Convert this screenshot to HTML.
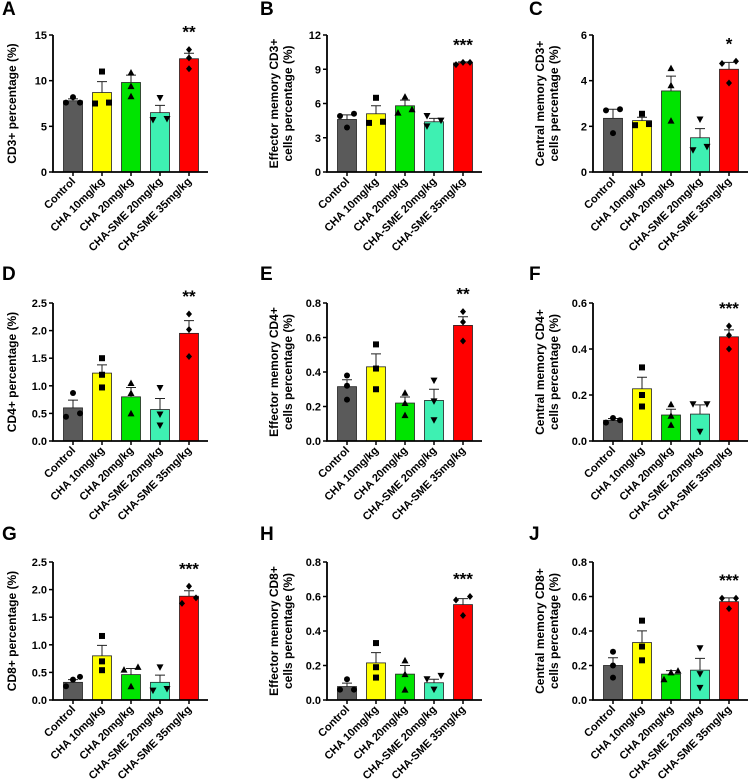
<!DOCTYPE html>
<html><head><meta charset="utf-8"><style>
body{margin:0;background:#fff;}
svg{display:block;font-family:"Liberation Sans",Arial,sans-serif;}
</style></head><body>
<svg id="fig" width="751" height="780" viewBox="0 0 751 780"></svg>
<script>
const categories = ["Control","CHA 10mg/kg","CHA 20mg/kg","CHA-SME 20mg/kg","CHA-SME 35mg/kg"];
const barColors = ["#5a5a5a","#ffff00","#00e400","#3ef0b2","#ff0000"];

const meansA=[7.8,8.7,9.8,6.5,12.4], semA=[0.2,1.2,0.8,0.8,0.6];
const ptsA=[[7.6,8.2,7.6],[7.5,11,7.6],[8.3,10.9,9.4],[5.7,8.1,5.8],[11.3,13.4,12.5]];
const ticksA=[0,5,10,15];
const meansB=[4.6,5.1,5.8,4.4,9.55], semB=[0.4,0.7,0.5,0.3,0.1];
const ptsB=[[3.9,4.9,5.1],[4.3,6.5,4.4],[5.2,6.6,5.5],[4.0,4.9,4.5],[9.4,9.6,9.6]];
const ticksB=[0,3,6,9,12];
const meansC=[2.35,2.25,3.55,1.5,4.5], semC=[0.4,0.15,0.65,0.4,0.3];
const ptsC=[[1.7,2.7,2.75],[2.05,2.55,2.1],[2.25,3.8,4.55],[0.95,1.1,2.3],[3.9,4.75,4.85]];
const ticksC=[0,2,4,6];
const meansD=[0.6,1.23,0.8,0.57,1.95], semD=[0.14,0.15,0.17,0.2,0.23];
const ptsD=[[0.44,0.87,0.5],[0.97,1.5,1.2],[0.5,1.05,0.87],[0.28,0.48,0.96],[1.53,2.02,2.3]];
const ticksD=[0,0.5,1.0,1.5,2.0,2.5];
const meansE=[0.315,0.43,0.22,0.235,0.67], semE=[0.04,0.075,0.035,0.065,0.05];
const ptsE=[[0.24,0.32,0.38],[0.3,0.42,0.56],[0.15,0.22,0.28],[0.12,0.23,0.35],[0.58,0.69,0.75]];
const ticksE=[0,0.2,0.4,0.6,0.8];
const meansF=[0.09,0.227,0.113,0.117,0.453], semF=[0.008,0.05,0.025,0.04,0.03];
const ptsF=[[0.08,0.1,0.09],[0.15,0.2,0.32],[0.07,0.11,0.16],[0.04,0.16,0.16],[0.4,0.46,0.5]];
const ticksF=[0,0.2,0.4,0.6];
const meansG=[0.32,0.8,0.46,0.32,1.88], semG=[0.05,0.19,0.11,0.13,0.1];
const ptsG=[[0.25,0.37,0.42],[0.54,0.7,1.16],[0.25,0.55,0.6],[0.17,0.2,0.59],[1.75,1.85,2.06]];
const ticksG=[0,0.5,1.0,1.5,2.0,2.5];
const meansH=[0.078,0.215,0.15,0.1,0.553], semH=[0.02,0.06,0.05,0.02,0.035];
const ptsH=[[0.06,0.06,0.12],[0.13,0.19,0.33],[0.06,0.15,0.23],[0.06,0.12,0.14],[0.49,0.58,0.6]];
const ticksH=[0,0.2,0.4,0.6,0.8];
const meansJ=[0.2,0.333,0.15,0.173,0.57], semJ=[0.045,0.068,0.02,0.068,0.022];
const ptsJ=[[0.13,0.2,0.28],[0.23,0.31,0.46],[0.12,0.16,0.17],[0.07,0.15,0.3],[0.53,0.59,0.59]];
const ticksJ=[0,0.2,0.4,0.6,0.8];

const panels=[
 {id:"A",col:0,row:0,title:["CD3+ percentage (%)"],m:meansA,s:semA,p:ptsA,t:ticksA,dec:0,star:"**"},
 {id:"B",col:1,row:0,title:["Effector memory CD3+","cells percentage (%)"],m:meansB,s:semB,p:ptsB,t:ticksB,dec:0,star:"***"},
 {id:"C",col:2,row:0,title:["Central memory CD3+","cells percentage (%)"],m:meansC,s:semC,p:ptsC,t:ticksC,dec:0,star:"*"},
 {id:"D",col:0,row:1,title:["CD4+ percentage (%)"],m:meansD,s:semD,p:ptsD,t:ticksD,dec:1,star:"**"},
 {id:"E",col:1,row:1,title:["Effector memory CD4+","cells percentage (%)"],m:meansE,s:semE,p:ptsE,t:ticksE,dec:1,star:"**"},
 {id:"F",col:2,row:1,title:["Central memory CD4+","cells percentage (%)"],m:meansF,s:semF,p:ptsF,t:ticksF,dec:1,star:"***"},
 {id:"G",col:0,row:2,title:["CD8+ percentage (%)"],m:meansG,s:semG,p:ptsG,t:ticksG,dec:1,star:"***"},
 {id:"H",col:1,row:2,title:["Effector memory CD8+","cells percentage (%)"],m:meansH,s:semH,p:ptsH,t:ticksH,dec:1,star:"***"},
 {id:"J",col:2,row:2,title:["Central memory CD8+","cells percentage (%)"],m:meansJ,s:semJ,p:ptsJ,t:ticksJ,dec:1,star:"***"}
];
const colAxisX=[53,327,593], colLetterX=[2,260,529];
const rowTop=[35,303,562], rowBot=[172,441,700], rowLetterY=[15,280,540];
const NS="http://www.w3.org/2000/svg";
const svg=document.getElementById("fig");
function mk(tag,attrs,parent,txt){const e=document.createElementNS(NS,tag);for(const k in attrs)e.setAttribute(k,attrs[k]);if(txt!=null)e.textContent=txt;(parent||svg).appendChild(e);return e;}

panels.forEach(P=>{
 const ax=colAxisX[P.col], top=rowTop[P.row], bot=rowBot[P.row];
 const ymax=P.t[P.t.length-1];
 const y=v=>bot-(v/ymax)*(bot-top);
 const xc=i=>ax+20+29*i;
 const g=mk("g",{});
 
 
 const L=mk("text",{x:colLetterX[P.col],y:rowLetterY[P.row],"font-size":19,"font-weight":"bold"},g,P.id);
 
 
 P.m.forEach((v,i)=>{
  const b=mk("rect",{x:xc(i)-9.5,y:y(v),width:19,height:bot-y(v),fill:barColors[i],stroke:"#222","stroke-width":0.8},g);
  
  
  const e=mk("path",{d:`M${xc(i)} ${y(v)}V${y(v+P.s[i])}M${xc(i)-5} ${y(v+P.s[i])}H${xc(i)+5}`,stroke:"#222","stroke-width":1,fill:"none"},g);
  
  
 });
 P.p.forEach((arr,i)=>{
  const ys=arr.map(y);
  arr.forEach((v,k)=>{
   const close=ys.map((yy,j)=>j).filter(j=>Math.abs(ys[j]-ys[k])<7);
   let off=0;
   if(close.length>1){const idx=close.indexOf(k);off=(idx-(close.length-1)/2)*14/(close.length-1);}
   const cx=xc(i)+off, cy=ys[k];
   let m;
   if(i===0) m=mk("circle",{cx,cy,r:3},g);
   else if(i===1) m=mk("rect",{x:cx-3,y:cy-3,width:6,height:6},g);
   else if(i===2) m=mk("path",{d:`M${cx} ${cy-3.5}L${cx+3.5} ${cy+3}L${cx-3.5} ${cy+3}Z`},g);
   else if(i===3) m=mk("path",{d:`M${cx} ${cy+3.5}L${cx+3.5} ${cy-3}L${cx-3.5} ${cy-3}Z`},g);
   else m=mk("path",{d:`M${cx} ${cy-3.5}L${cx+3} ${cy}L${cx} ${cy+3.5}L${cx-3} ${cy}Z`},g);
   m.setAttribute("fill","#000");
   
   
  });
 });
 const axes=mk("path",{d:`M${ax} ${top}V${bot}H${ax+155}`,stroke:"#000","stroke-width":1.8,fill:"none"},g);
 
 
 P.t.forEach(t=>{
  mk("line",{x1:ax-4,x2:ax,y1:y(t),y2:y(t),stroke:"#000","stroke-width":1.5},g);
  const tl=mk("text",{x:ax-6,y:y(t)+4,"text-anchor":"end","font-size":11,"font-weight":"bold"},g,t.toFixed(P.dec));
  
  
 });
 categories.forEach((c,i)=>{
  mk("line",{x1:xc(i),x2:xc(i),y1:bot,y2:bot+4,stroke:"#000","stroke-width":1.5},g);
  const xl=mk("text",{x:xc(i)+3,y:bot+10,"text-anchor":"end","font-size":11,"font-weight":"bold",transform:`rotate(-45 ${xc(i)+3} ${bot+10})`},g,c);
  
  
 });
 const mid=(top+bot)/2;
 const tx=P.title.length===1?[ax-37]:[ax-49,ax-35];
 P.title.forEach((s,k)=>{
  const t=mk("text",{x:tx[k],y:mid,"text-anchor":"middle","font-size":12,"font-weight":"bold",transform:`rotate(-90 ${tx[k]} ${mid})`},g,s);
  
  
 });
 const mx=Math.max(...P.p[4]);
 const st=mk("text",{x:xc(4),y:y(mx)-12,"text-anchor":"middle","font-size":17,"font-weight":"bold"},g,P.star);
 
 
});
</script>
</body></html>
